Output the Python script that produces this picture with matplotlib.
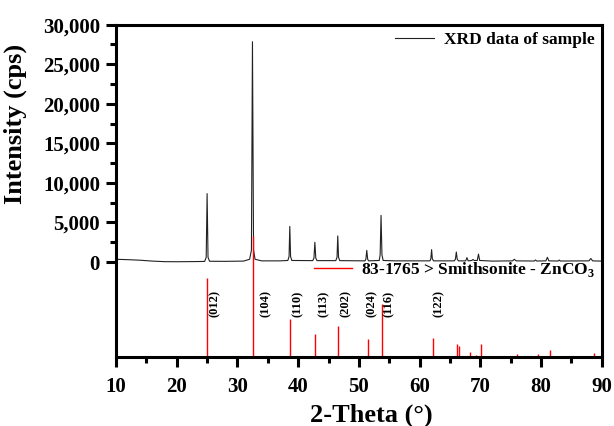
import matplotlib
matplotlib.use("Agg")
import matplotlib.pyplot as plt
from matplotlib.lines import Line2D
from matplotlib.ticker import MultipleLocator, FuncFormatter, FixedLocator

plt.rcParams['font.family'] = ['Liberation Serif', 'DejaVu Serif']
plt.rcParams['font.weight'] = 'bold'
plt.rcParams['mathtext.fontset'] = 'custom'
plt.rcParams['mathtext.rm'] = 'Liberation Serif:bold'
plt.rcParams['mathtext.bf'] = 'Liberation Serif:bold'

two_theta = [10.0, 12.0, 14.0, 16.0, 18.0, 20.0, 23.0, 24.6,
             24.85, 25.0, 25.15, 25.4, 28.0, 31.0,
             32.0, 32.3, 32.47, 32.65, 32.9, 34.0, 37.0,
             38.3, 38.5, 38.62, 38.75, 38.95,
             42.4, 42.6, 42.75, 42.9, 43.1,
             46.2, 46.4, 46.52, 46.65, 46.85,
             51.0, 51.15, 51.3, 51.45, 51.6,
             53.35, 53.5, 53.65, 53.8, 54.0, 56.0,
             61.7, 61.85, 61.98, 62.1, 62.3,
             65.7, 65.9, 66.05, 66.2, 66.4,
             67.6, 67.8, 68.0, 68.6, 68.8, 69.0,
             69.5, 69.7, 69.9, 72.0,
             75.3, 75.6, 75.9, 78.9, 79.1, 79.3,
             80.8, 81.05, 81.3, 82.8, 83.0, 83.2,
             87.9, 88.2, 88.5, 90.0]
intensity = [350, 300, 230, 120, 50, 40, 60, 80,
             600, 8650, 600, 100, 90, 120,
             350, 1500, 27850, 1500, 350, 150, 150,
             200, 700, 4500, 700, 200,
             180, 500, 2500, 500, 180,
             180, 600, 3300, 600, 180,
             150, 350, 1480, 350, 150,
             200, 900, 5900, 900, 200, 150,
             150, 400, 1570, 400, 150,
             150, 350, 1270, 350, 150,
             150, 560, 150, 200, 320, 200,
             200, 1000, 200, 120,
             150, 350, 150, 130, 260, 130,
             150, 600, 150, 130, 250, 130,
             150, 450, 150, 120]

# reference card 83-1765 Smithsonite ZnCO3 (relative intensity %)
ref_pos = [25.05, 32.55, 38.7, 42.85, 46.6, 51.45, 53.8, 61.25, 62.15,
           66.2, 66.45, 68.25, 69.35, 70.1, 76.0, 79.55, 81.4, 83.1,
           88.45, 88.8]
ref_rel = [65, 100, 31, 19, 26, 15, 44, 1, 16,
           11, 9, 4, 2, 10.5, 2.5, 2.3, 5.5, 1,
           1, 3]
hkl = ['(012)', '(104)', '(110)', '(113)', '(202)', '(024)', '(116)', '(122)']
hkl_x = [26.3, 34.6, 40.0, 44.15, 47.85, 52.1, 55.0, 63.1]

y_bottom = -12000
stick_scale = 15300 / 100.0

fig = plt.figure(figsize=(6.14, 4.26), dpi=100)
ax = fig.add_axes([0.189, 0.162, 0.791, 0.780])

line, = ax.plot(two_theta, intensity, color='#222222', lw=0.8)
ax.vlines(ref_pos, y_bottom, [y_bottom + r * stick_scale for r in ref_rel],
          color='red', lw=1.0)
for lab, xl in zip(hkl, hkl_x):
    ax.text(xl, -5300, lab, rotation=90, ha='center', va='center',
            fontsize=9, fontweight='bold')

ax.set_xlim(10, 90)
ax.set_ylim(y_bottom, 30000)
ax.xaxis.set_major_locator(MultipleLocator(10))
ax.xaxis.set_minor_locator(MultipleLocator(5))
ax.yaxis.set_major_locator(FixedLocator(range(0, 30001, 5000)))
ax.yaxis.set_minor_locator(FixedLocator(range(2500, 30000, 5000)))
ax.yaxis.set_major_formatter(FuncFormatter(lambda v, p: f'{int(v):,}'))
ax.tick_params(which='major', direction='out', length=7.5, width=2.2,
               labelsize=15, pad=4)
ax.tick_params(axis='x', which='major', pad=7)
ax.tick_params(which='minor', direction='out', length=4, width=2.2)
for s in ax.spines.values():
    s.set_linewidth(2.2)

ax.set_xlabel('2-Theta (°)', fontsize=19, fontweight='bold', labelpad=0)
ax.xaxis.set_label_coords(0.526, -0.14)
ax.set_ylabel('Intensity (cps)', fontsize=19, fontweight='bold')
ax.yaxis.set_label_coords(-0.183, 0.70)

leg1 = ax.legend([line], ['XRD data of sample'], loc='upper right',
                 frameon=False, fontsize=12.5, handlelength=2.2,
                 handletextpad=0.6, borderaxespad=0.0,
                 bbox_to_anchor=(1.0, 1.0))
ax.add_artist(leg1)
red = Line2D([], [], color='red', lw=1.0)
ax.legend([red], ['83-1765 > Smithsonite - ZnCO$_3$'], loc='center right',
          frameon=False, fontsize=12.5, handlelength=2.2, handletextpad=0.5,
          borderaxespad=0.0, bbox_to_anchor=(1.0, 0.262))

fig.savefig('out.png', dpi=100)
